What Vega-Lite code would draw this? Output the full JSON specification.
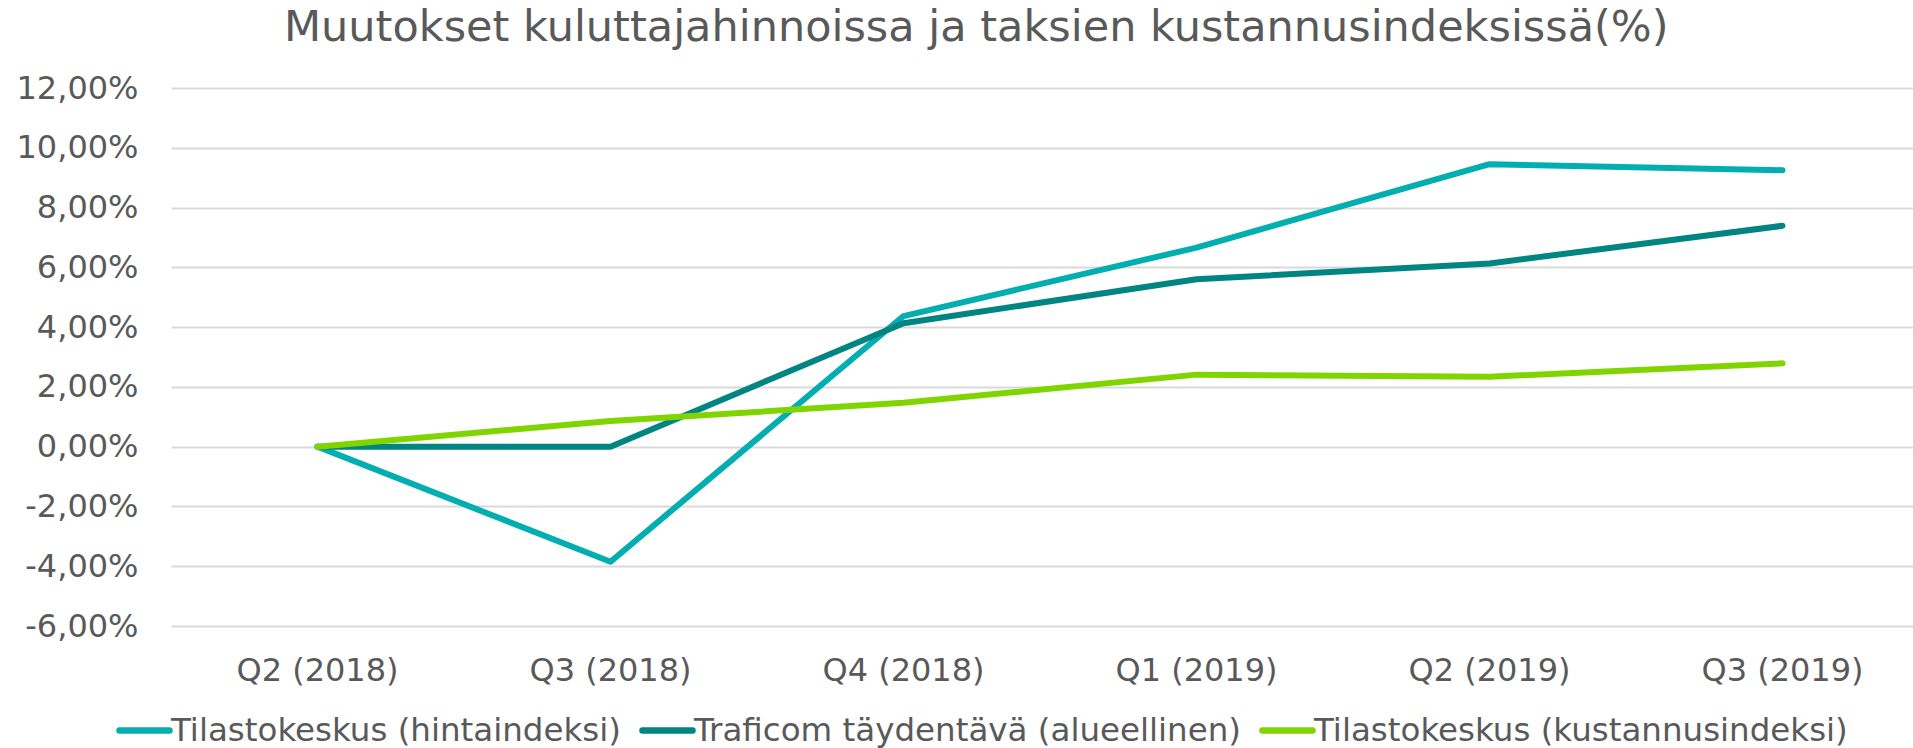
{
  "$schema": "https://vega.github.io/schema/vega-lite/v6.json",
  "width": 1742,
  "height": 538,
  "autosize": {"type": "none"},
  "padding": {"left": 171, "top": 88, "right": 0, "bottom": 122},
  "background": "white",
  "config": {"view": {"stroke": null}, "font": "DejaVu Sans"},
  "title": {
    "text": "Muutokset kuluttajahinnoissa ja taksien kustannusindeksissä(%)",
    "font": "DejaVu Sans",
    "fontSize": 43,
    "fontWeight": "normal",
    "color": "#595959",
    "anchor": "start",
    "frame": "group",
    "dx": 113,
    "baseline": "alphabetic",
    "offset": -12
  },
  "data": {
    "values": [
      {"kvartaali": "Q2 (2018)", "sarja": "Tilastokeskus (hintaindeksi)", "muutos": 0},
      {"kvartaali": "Q3 (2018)", "sarja": "Tilastokeskus (hintaindeksi)", "muutos": -3.85},
      {"kvartaali": "Q4 (2018)", "sarja": "Tilastokeskus (hintaindeksi)", "muutos": 4.37},
      {"kvartaali": "Q1 (2019)", "sarja": "Tilastokeskus (hintaindeksi)", "muutos": 6.66},
      {"kvartaali": "Q2 (2019)", "sarja": "Tilastokeskus (hintaindeksi)", "muutos": 9.45},
      {"kvartaali": "Q3 (2019)", "sarja": "Tilastokeskus (hintaindeksi)", "muutos": 9.25},
      {"kvartaali": "Q2 (2018)", "sarja": "Traficom täydentävä (alueellinen)", "muutos": 0},
      {"kvartaali": "Q3 (2018)", "sarja": "Traficom täydentävä (alueellinen)", "muutos": 0},
      {"kvartaali": "Q4 (2018)", "sarja": "Traficom täydentävä (alueellinen)", "muutos": 4.13},
      {"kvartaali": "Q1 (2019)", "sarja": "Traficom täydentävä (alueellinen)", "muutos": 5.6},
      {"kvartaali": "Q2 (2019)", "sarja": "Traficom täydentävä (alueellinen)", "muutos": 6.13},
      {"kvartaali": "Q3 (2019)", "sarja": "Traficom täydentävä (alueellinen)", "muutos": 7.39},
      {"kvartaali": "Q2 (2018)", "sarja": "Tilastokeskus (kustannusindeksi)", "muutos": 0},
      {"kvartaali": "Q3 (2018)", "sarja": "Tilastokeskus (kustannusindeksi)", "muutos": 0.86},
      {"kvartaali": "Q4 (2018)", "sarja": "Tilastokeskus (kustannusindeksi)", "muutos": 1.47},
      {"kvartaali": "Q1 (2019)", "sarja": "Tilastokeskus (kustannusindeksi)", "muutos": 2.41},
      {"kvartaali": "Q2 (2019)", "sarja": "Tilastokeskus (kustannusindeksi)", "muutos": 2.34},
      {"kvartaali": "Q3 (2019)", "sarja": "Tilastokeskus (kustannusindeksi)", "muutos": 2.79}
    ]
  },
  "mark": {"type": "line", "strokeWidth": 6, "strokeCap": "round", "strokeJoin": "round"},
  "encoding": {
    "x": {
      "field": "kvartaali",
      "type": "ordinal",
      "sort": ["Q2 (2018)", "Q3 (2018)", "Q4 (2018)", "Q1 (2019)", "Q2 (2019)", "Q3 (2019)"],
      "scale": {"type": "band", "range": [0, 1758], "paddingInner": 0, "paddingOuter": 0},
      "axis": {
        "title": null,
        "labelAngle": 0,
        "domain": false,
        "ticks": false,
        "grid": false,
        "labelFont": "DejaVu Sans",
        "labelFontSize": 32,
        "labelColor": "#595959",
        "labelPadding": 29
      }
    },
    "y": {
      "field": "muutos",
      "type": "quantitative",
      "scale": {"domain": [-6, 12], "nice": false, "zero": false},
      "axis": {
        "title": null,
        "values": [-6, -4, -2, 0, 2, 4, 6, 8, 10, 12],
        "domain": false,
        "ticks": false,
        "grid": true,
        "gridColor": "#d9d9d9",
        "gridWidth": 2,
        "labelFont": "DejaVu Sans",
        "labelFontSize": 32,
        "labelColor": "#595959",
        "labelPadding": 33,
        "labelExpr": "(datum.value < 0 ? '-' : '') + replace(format(abs(datum.value), '.2f'), '.', ',') + '%'"
      }
    },
    "color": {
      "field": "sarja",
      "type": "nominal",
      "sort": ["Tilastokeskus (hintaindeksi)", "Traficom täydentävä (alueellinen)", "Tilastokeskus (kustannusindeksi)"],
      "scale": {
        "domain": ["Tilastokeskus (hintaindeksi)", "Traficom täydentävä (alueellinen)", "Tilastokeskus (kustannusindeksi)"],
        "range": ["#02AEAF", "#008583", "#80D400"]
      },
      "legend": {
        "title": null,
        "orient": "none",
        "legendX": -55,
        "legendY": 614,
        "direction": "horizontal",
        "labelFont": "DejaVu Sans",
        "labelFontSize": 32.5,
        "labelColor": "#595959",
        "labelLimit": 0,
        "labelOffset": -2,
        "columnPadding": 8,
        "symbolType": "stroke",
        "symbolSize": 2500,
        "symbolStrokeWidth": 6.5,
        "encode": {"symbols": {"update": {"strokeCap": {"value": "round"}}}}
      }
    }
  }
}
